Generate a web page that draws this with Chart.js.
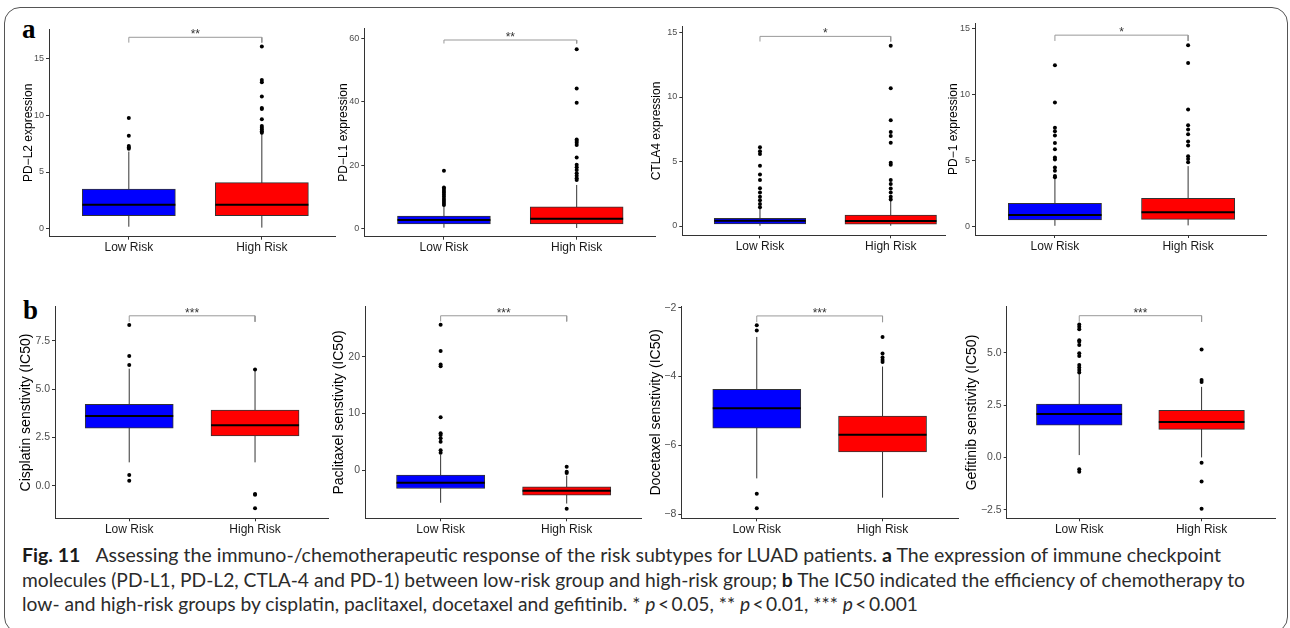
<!DOCTYPE html>
<html>
<head>
<meta charset="utf-8">
<script src="https://cdn.jsdelivr.net/npm/chart.js@4.4.1/dist/chart.umd.min.js"></script>
<style>
  html, body { margin: 0; padding: 0; background: #fff; }
  body { width: 1290px; height: 628px; position: relative; overflow: hidden; }
  canvas { position: absolute; }
  .frame { position: absolute; left: 4px; top: 7px; width: 1284px; height: 626px; border: 1.5px solid #555;
           border-radius: 16px; box-sizing: border-box; }
  .tag { position: absolute; font-family: 'Liberation Serif', 'Times New Roman', serif; font-weight: bold;
         font-size: 27px; line-height: 27px; color: #000; }
  .cap { position: absolute; left: 22px; font-family: Lato, 'Open Sans', sans-serif; font-size: 19.5px;
         line-height: 24px; white-space: nowrap; color: #2b2b2b; transform-origin: 0 0; }
  .cap b { font-weight: bold; color: #1a1a1a; }
</style>
</head>
<body>
<div class="frame"></div>
<div class="tag" style="left:22px;top:16px">a</div>
<div class="tag" style="left:23px;top:297px">b</div>

<div class="cap" id="cap1" style="top:543px"><b>Fig. 11</b><span style="display:inline-block;width:15px"></span>Assessing the immuno-/chemotherapeutic response of the risk subtypes for LUAD patients. <b>a</b> The expression of immune checkpoint</div>
<div class="cap" id="cap2" style="top:568px">molecules (PD-L1, PD-L2, CTLA-4 and PD-1) between low-risk group and high-risk group; <b>b</b> The IC50 indicated the efficiency of chemotherapy to</div>
<div class="cap" id="cap3" style="top:592px">low- and high-risk groups by cisplatin, paclitaxel, docetaxel and gefitinib. * <i>p</i>&#8201;&lt;&#8201;0.05, ** <i>p</i>&#8201;&lt;&#8201;0.01, *** <i>p</i>&#8201;&lt;&#8201;0.001</div>

<script>
// ---------------- DATA ----------------
const CATEGORIES = ['Low Risk', 'High Risk'];
// box stats: [lower whisker, Q1, median, Q3, upper whisker]

// a1: PD-L2
const PDL2_LOW = [0.18, 1.15, 2.12, 3.50, 6.80];
const PDL2_HIGH = [0.10, 1.15, 2.12, 4.06, 8.40];
const PDL2_LOW_OUT = [7.05, 7.15, 7.30, 8.20, 9.75];
const PDL2_HIGH_OUT = [8.45, 8.60, 8.75, 8.90, 9.05, 9.65, 10.55, 10.65, 11.65, 12.90, 13.10, 16.05];
const PDL2_TICKS = [0, 5, 10, 15];
const PDL2_TICK_LABELS = ['0', '5', '10', '15'];
const PDL2_RANGE = [-0.7, 17.6];
const PDL2_BRACKET = [16.87, 16.4];

// a2: PD-L1
const PDL1_LOW = [0.20, 1.36, 2.62, 3.88, 7.0];
const PDL1_HIGH = [0.10, 1.36, 3.00, 6.80, 13.7];
const PDL1_LOW_OUT = [7.4, 8.0, 8.6, 9.3, 10.0, 10.6, 11.2, 11.8, 12.4, 12.9, 18.2];
const PDL1_HIGH_OUT = [15.3, 15.8, 16.6, 17.4, 18.4, 19.3, 20.1, 22.4, 26.3, 27.0, 27.6, 28.1, 39.7, 44.2, 56.6];
const PDL1_TICKS = [0, 20, 40, 60];
const PDL1_TICK_LABELS = ['0', '20', '40', '60'];
const PDL1_RANGE = [-2.65, 63.2];
const PDL1_BRACKET = [59.5, 58.4];

// a3: CTLA4
const CTLA4_LOW = [0.02, 0.155, 0.41, 0.60, 1.37];
const CTLA4_HIGH = [0.02, 0.15, 0.39, 0.85, 1.95];
const CTLA4_LOW_OUT = [1.45, 1.7, 2.0, 2.26, 2.6, 2.92, 3.57, 4.0, 4.67, 5.58, 5.8, 6.1];
const CTLA4_HIGH_OUT = [2.05, 2.26, 2.6, 2.9, 3.26, 3.57, 4.75, 4.9, 6.46, 6.97, 7.28, 8.19, 10.67, 13.98];
const CTLA4_TICKS = [0, 5, 10, 15];
const CTLA4_TICK_LABELS = ['0', '5', '10', '15'];
const CTLA4_RANGE = [-0.72, 15.45];
const CTLA4_BRACKET = [14.7, 14.3];

// a4: PD-1
const PD1_LOW = [0.02, 0.46, 0.83, 1.72, 3.6];
const PD1_HIGH = [0.05, 0.51, 1.04, 2.10, 4.55];
const PD1_LOW_OUT = [3.7, 3.8, 4.2, 4.45, 5.05, 5.2, 5.84, 6.3, 6.88, 7.2, 7.46, 9.39, 12.22];
const PD1_HIGH_OUT = [4.85, 5.1, 5.3, 6.12, 6.42, 6.98, 7.33, 7.66, 8.85, 12.39, 13.73];
const PD1_TICKS = [0, 5, 10, 15];
const PD1_TICK_LABELS = ['0', '5', '10', '15'];
const PD1_RANGE = [-0.68, 15.4];
const PD1_BRACKET = [14.5, 14.06];

// b1: Cisplatin
const CIS_LOW = [1.22, 2.98, 3.61, 4.22, 6.06];
const CIS_HIGH = [1.22, 2.58, 3.13, 3.92, 5.95];
const CIS_LOW_OUT = [0.27, 0.57, 6.25, 6.71, 8.31];
const CIS_HIGH_OUT = [6.02, -0.41, -0.46, -1.15];
const CIS_TICKS = [0, 2.5, 5, 7.5];
const CIS_TICK_LABELS = ['0.0', '2.5', '5.0', '7.5'];
const CIS_RANGE = [-1.67, 9.26];
const CIS_BRACKET = [8.79, 8.48];

// b2: Paclitaxel
const PAC_LOW = [-5.76, -3.24, -2.24, -0.88, 2.7];
const PAC_HIGH = [-5.9, -4.41, -3.65, -2.94, -0.95];
const PAC_LOW_OUT = [3.05, 3.5, 5.0, 5.6, 6.2, 6.5, 9.3, 18.3, 18.6, 21.0, 25.6];
const PAC_HIGH_OUT = [0.59, -0.3, -0.5, -6.8];
const PAC_TICKS = [0, 10, 20];
const PAC_TICK_LABELS = ['0', '10', '20'];
const PAC_RANGE = [-8.5, 28.8];
const PAC_BRACKET = [27.2, 26.2];

// b3: Docetaxel
const DOC_LOW = [-6.96, -5.50, -4.92, -4.37, -2.85];
const DOC_HIGH = [-7.52, -6.19, -5.69, -5.15, -3.71];
const DOC_LOW_OUT = [-2.51, -2.66, -7.41, -7.83];
const DOC_HIGH_OUT = [-2.85, -3.33, -3.45, -3.52, -3.58];
const DOC_TICKS = [-8, -6, -4, -2];
const DOC_TICK_LABELS = ['\u22128', '\u22126', '\u22124', '\u22122'];
const DOC_RANGE = [-8.12, -1.96];
const DOC_BRACKET = [-2.24, -2.42];

// b4: Gefitinib
const GEF_LOW = [0.11, 1.54, 2.07, 2.55, 3.98];
const GEF_HIGH = [0.0, 1.34, 1.69, 2.25, 3.37];
const GEF_LOW_OUT = [-0.69, -0.57, 4.06, 4.17, 4.3, 4.41, 4.84, 4.97, 5.37, 5.52, 5.6, 6.12, 6.24, 6.35];
const GEF_HIGH_OUT = [3.6, 3.7, 5.16, -0.26, -1.15, -2.45];
const GEF_TICKS = [-2.5, 0, 2.5, 5];
const GEF_TICK_LABELS = ['\u22122.5', '0.0', '2.5', '5.0'];
const GEF_RANGE = [-2.91, 7.2];
const GEF_BRACKET = [6.77, 6.48];

const TITLES = ['PD\u2212L2 expression', 'PD\u2212L1 expression', 'CTLA4 expression', 'PD\u22121 expression',
  'Cisplatin senstivity (IC50)', 'Paclitaxel senstivity (IC50)', 'Docetaxel senstivity (IC50)', 'Gefitinib senstivity (IC50)'];
const STARS = ['**', '**', '*', '*', '***', '***', '***', '***'];

// ---------------- LAYOUT (pixels) ----------------
// [axisX, areaTop, axisRight, areaBottom, titleCenterX, xMin, xMax]
const LAYOUT = [
  [49, 29, 335, 236.7, 28.3, 0.40, 2.55],
  [364.3, 28.3, 655, 236.7, 343.3, 0.40, 2.59],
  [682.3, 26.7, 945, 235.3, 656.7, 0.406, 2.415],
  [975, 23.3, 1266.7, 235, 953.3, 0.40, 2.59],
  [55, 306.7, 328, 518.3, 27, 0.41, 2.58],
  [365, 306.7, 641.7, 518.3, 340, 0.40, 2.595],
  [681.3, 306, 958, 518.3, 656.7, 0.40, 2.6],
  [1006.7, 306.7, 1275, 518.3, 973.3, 0.407, 2.6]
];
const BOX_WIDTH = 0.70;
const LOW_COLOR = '#0000ff';
const HIGH_COLOR = '#ff0000';
const INK = '#333333';

const PANELS = [
  { low: PDL2_LOW, high: PDL2_HIGH, lowOut: PDL2_LOW_OUT, highOut: PDL2_HIGH_OUT, ticks: PDL2_TICKS, labels: PDL2_TICK_LABELS, range: PDL2_RANGE, bracket: PDL2_BRACKET },
  { low: PDL1_LOW, high: PDL1_HIGH, lowOut: PDL1_LOW_OUT, highOut: PDL1_HIGH_OUT, ticks: PDL1_TICKS, labels: PDL1_TICK_LABELS, range: PDL1_RANGE, bracket: PDL1_BRACKET },
  { low: CTLA4_LOW, high: CTLA4_HIGH, lowOut: CTLA4_LOW_OUT, highOut: CTLA4_HIGH_OUT, ticks: CTLA4_TICKS, labels: CTLA4_TICK_LABELS, range: CTLA4_RANGE, bracket: CTLA4_BRACKET },
  { low: PD1_LOW, high: PD1_HIGH, lowOut: PD1_LOW_OUT, highOut: PD1_HIGH_OUT, ticks: PD1_TICKS, labels: PD1_TICK_LABELS, range: PD1_RANGE, bracket: PD1_BRACKET },
  { low: CIS_LOW, high: CIS_HIGH, lowOut: CIS_LOW_OUT, highOut: CIS_HIGH_OUT, ticks: CIS_TICKS, labels: CIS_TICK_LABELS, range: CIS_RANGE, bracket: CIS_BRACKET },
  { low: PAC_LOW, high: PAC_HIGH, lowOut: PAC_LOW_OUT, highOut: PAC_HIGH_OUT, ticks: PAC_TICKS, labels: PAC_TICK_LABELS, range: PAC_RANGE, bracket: PAC_BRACKET },
  { low: DOC_LOW, high: DOC_HIGH, lowOut: DOC_LOW_OUT, highOut: DOC_HIGH_OUT, ticks: DOC_TICKS, labels: DOC_TICK_LABELS, range: DOC_RANGE, bracket: DOC_BRACKET },
  { low: GEF_LOW, high: GEF_HIGH, lowOut: GEF_LOW_OUT, highOut: GEF_HIGH_OUT, ticks: GEF_TICKS, labels: GEF_TICK_LABELS, range: GEF_RANGE, bracket: GEF_BRACKET }
];

Chart.defaults.font.family = "'Liberation Sans', Arial, Helvetica, sans-serif";
Chart.defaults.color = '#333';

const starPlugin = {
  id: 'stars',
  afterDatasetsDraw(chart, args, opts) {
    const { ctx, scales: { x, y } } = chart;
    ctx.save();
    ctx.font = "12px 'Liberation Sans', Arial, sans-serif";
    ctx.fillStyle = '#333';
    ctx.textAlign = 'center';
    ctx.textBaseline = 'alphabetic';
    ctx.fillText(opts.text, x.getPixelForValue(1.5), y.getPixelForValue(opts.at) + 1);
    ctx.restore();
  }
};

function buildPanel(i) {
  const p = PANELS[i];
  const [axisX, top, right, bottom, titleX, xMin, xMax] = LAYOUT[i];
  const big = i >= 4;
  const titleSize = big ? 14 : 12;
  const tickSize = big ? 10.5 : 9;
  const W = right - axisX, H = bottom - top;
  const left = Math.floor(titleX - 0.6 * titleSize);
  const yW = axisX - left;
  const cTop = Math.floor(top - 8);
  const padTop = top - cTop;
  const ch = Math.ceil(padTop + H + 24);
  const xH = ch - padTop - H;
  const cw = Math.ceil(yW + W + 4);
  const padRight = cw - yW - W;
  const unitPx = W / (xMax - xMin);
  const half = BOX_WIDTH / 2;

  const canvas = document.createElement('canvas');
  canvas.width = cw; canvas.height = ch;
  canvas.style.left = left + 'px'; canvas.style.top = cTop + 'px';
  canvas.style.width = cw + 'px'; canvas.style.height = ch + 'px';
  document.body.appendChild(canvas);

  const L = p.low, Hh = p.high;
  const datasets = [
    { type: 'line', label: 'whiskers', order: 4,
      data: [{ x: 1, y: L[0] }, { x: 1, y: L[4] }, { x: 1.5, y: null }, { x: 2, y: Hh[0] }, { x: 2, y: Hh[4] }],
      borderColor: INK, borderWidth: 1, pointRadius: 0, spanGaps: false, fill: false },
    { type: 'bar', label: 'box', order: 3,
      data: [{ x: 1, y: [L[1], L[3]] }, { x: 2, y: [Hh[1], Hh[3]] }],
      backgroundColor: [LOW_COLOR, HIGH_COLOR], borderColor: INK, borderWidth: 1, borderSkipped: false,
      barThickness: BOX_WIDTH * unitPx, grouped: false },
    { type: 'line', label: 'median', order: 2,
      data: [{ x: 1 - half, y: L[2] }, { x: 1 + half, y: L[2] }, { x: 1.5, y: null },
             { x: 2 - half, y: Hh[2] }, { x: 2 + half, y: Hh[2] }],
      borderColor: '#000', borderWidth: 2, pointRadius: 0, spanGaps: false, fill: false },
    { type: 'scatter', label: 'outliers', order: 1,
      data: p.lowOut.map(v => ({ x: 1, y: v })).concat(p.highOut.map(v => ({ x: 2, y: v }))),
      backgroundColor: '#000', borderWidth: 0, pointRadius: 2 },
    { type: 'line', label: 'bracket', order: 5,
      data: [{ x: 1, y: p.bracket[1] }, { x: 1, y: p.bracket[0] }, { x: 2, y: p.bracket[0] }, { x: 2, y: p.bracket[1] }],
      borderColor: '#999', borderWidth: 1, pointRadius: 0, fill: false }
  ];

  new Chart(canvas, {
    type: 'bar',
    data: { datasets },
    plugins: [starPlugin],
    options: {
      responsive: false, animation: false, devicePixelRatio: 1,
      layout: { padding: { top: padTop, right: padRight, bottom: 0, left: 0 } },
      plugins: { legend: { display: false }, tooltip: { enabled: false },
                 stars: { text: STARS[i], at: p.bracket[0] } },
      scales: {
        x: {
          type: 'linear', min: xMin, max: xMax, offset: false,
          afterFit(s) { s.height = xH; },
          afterBuildTicks(s) { s.ticks = [{ value: 1 }, { value: 2 }]; },
          grid: { display: true, drawOnChartArea: false, drawTicks: true, tickLength: 3, color: INK, offset: false },
          border: { display: true, color: INK, width: 1 },
          ticks: { font: { size: 12 }, color: '#1a1a1a', padding: 1, maxRotation: 0, autoSkip: false,
                   callback: v => CATEGORIES[Math.round(v) - 1] }
        },
        y: {
          type: 'linear', min: p.range[0], max: p.range[1],
          afterFit(s) { s.width = yW; },
          afterBuildTicks(s) { s.ticks = p.ticks.map(v => ({ value: v })); },
          grid: { display: true, drawOnChartArea: false, drawTicks: true, tickLength: 3, color: INK },
          border: { display: true, color: INK, width: 1 },
          ticks: { font: { size: tickSize }, color: '#4d4d4d', padding: 2, autoSkip: false,
                   callback: (v, idx) => p.labels[idx] },
          title: { display: true, text: TITLES[i], font: { size: titleSize }, color: '#000', padding: 0 }
        }
      }
    }
  });
}

for (let i = 0; i < PANELS.length; i++) buildPanel(i);

// fit caption lines to the reference widths
const CAP_WIDTHS = [1199, 1223, 896];
function fitCaptions() {
  ['cap1', 'cap2', 'cap3'].forEach((id, k) => {
    const el = document.getElementById(id);
    el.style.transform = 'none';
    const w = el.getBoundingClientRect().width;
    if (w > 0) el.style.transform = 'scaleX(' + (CAP_WIDTHS[k] / w) + ')';
  });
}
fitCaptions();
if (document.fonts && document.fonts.ready) document.fonts.ready.then(fitCaptions);
</script>
</body>
</html>
